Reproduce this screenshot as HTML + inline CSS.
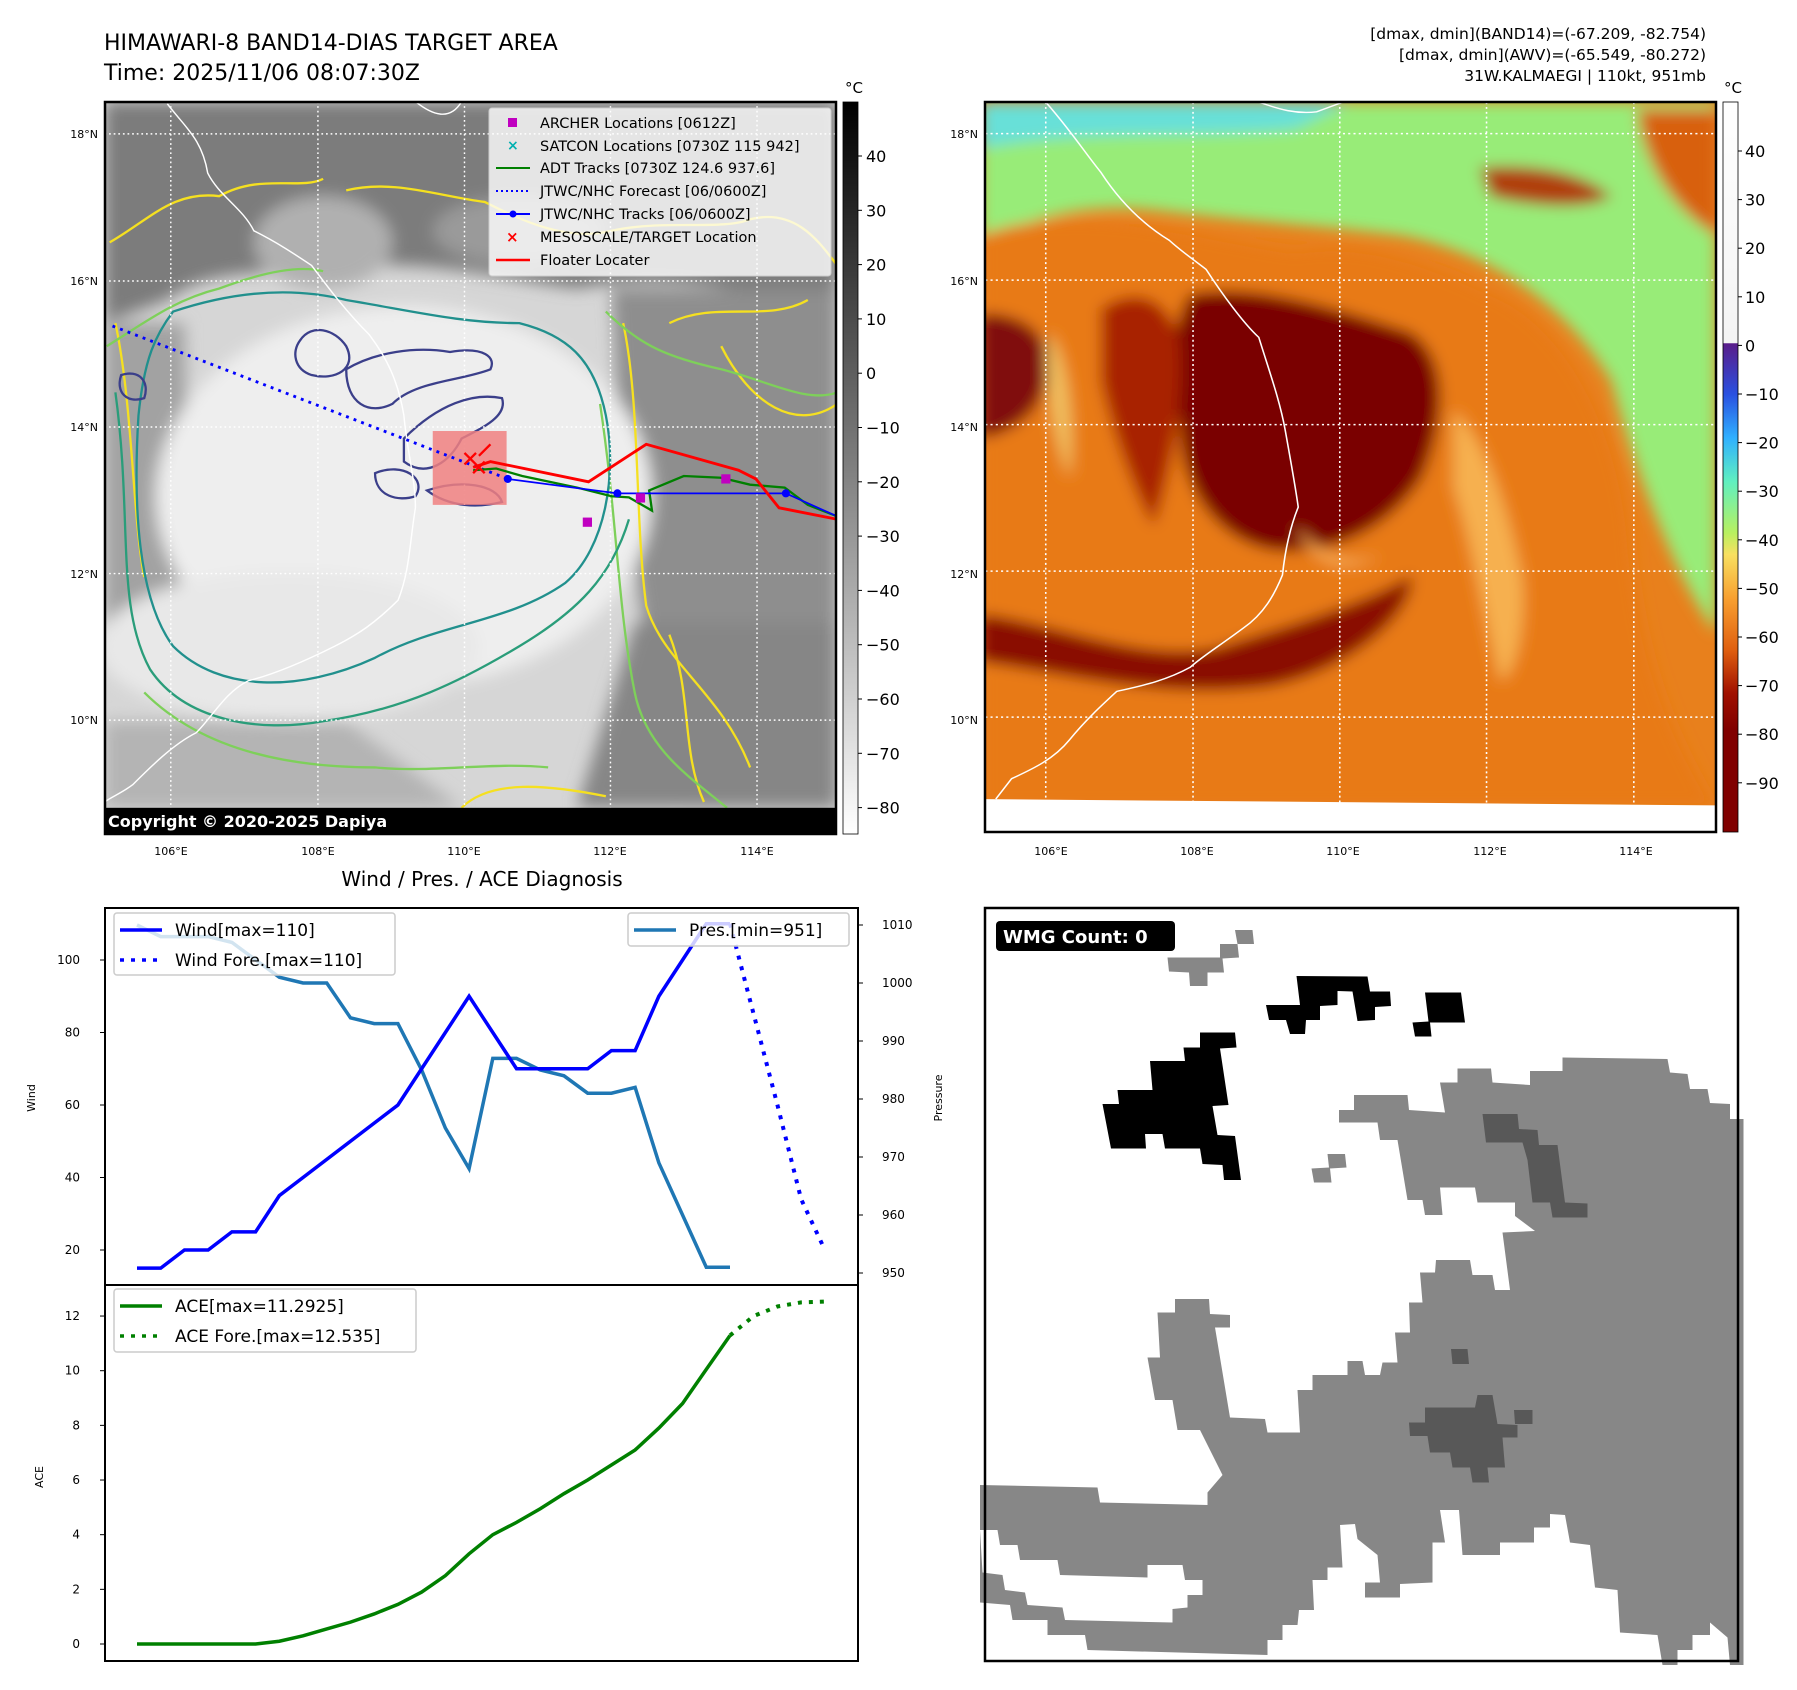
<!DOCTYPE html>
<html><head><meta charset="utf-8">
<style>
html,body{margin:0;padding:0;background:#fff;}
svg{display:block;font-family:"DejaVu Sans","Liberation Sans",sans-serif;}
</style></head>
<body>
<svg id="root" width="1797" height="1690" viewBox="0 0 1797 1690" xmlns="http://www.w3.org/2000/svg">
<defs>
<filter id="blur8" x="-20%" y="-20%" width="140%" height="140%"><feGaussianBlur stdDeviation="14"/></filter>
<filter id="blur4"><feGaussianBlur stdDeviation="6"/></filter>
<linearGradient id="cbGray" x1="0" y1="0" x2="0" y2="1"><stop offset="0" stop-color="#000"/><stop offset="1" stop-color="#fff"/></linearGradient>
<linearGradient id="cbColor" x1="0" y1="0" x2="0" y2="1">
<stop offset="0" stop-color="#ffffff"/><stop offset="0.33" stop-color="#f4f4f4"/>
<stop offset="0.331" stop-color="#5a1d8a"/><stop offset="0.40" stop-color="#2a50e0"/>
<stop offset="0.46" stop-color="#30b0ff"/><stop offset="0.52" stop-color="#60f0c0"/>
<stop offset="0.59" stop-color="#b8f060"/><stop offset="0.62" stop-color="#f8e060"/>
<stop offset="0.68" stop-color="#f8a030"/><stop offset="0.75" stop-color="#e06010"/>
<stop offset="0.81" stop-color="#a01000"/><stop offset="0.86" stop-color="#800000"/><stop offset="1" stop-color="#800000"/>
</linearGradient>
<clipPath id="clipL"><rect x="105" y="102" width="731" height="732"/></clipPath>
<clipPath id="clipR"><rect x="985" y="102" width="731" height="730"/></clipPath>
</defs>

<text x="104" y="50" font-size="22">HIMAWARI-8 BAND14-DIAS TARGET AREA</text>
<text x="104" y="80" font-size="22">Time: 2025/11/06 08:07:30Z</text>
<g font-size="15.5" text-anchor="end">
<text x="1706" y="39">[dmax, dmin](BAND14)=(-67.209, -82.754)</text>
<text x="1706" y="60">[dmax, dmin](AWV)=(-65.549, -80.272)</text>
<text x="1706" y="81">31W.KALMAEGI | 110kt, 951mb</text>
</g>

<!-- LEFT MAP -->
<g clip-path="url(#clipL)">
<g transform="scale(0.577)">
<rect x="181" y="176" width="1270" height="1270" fill="#d6d6d6"/>
<g filter="url(#blur8)">
<path d="M181,176 L1451,176 L1451,540 C1300,500 1150,470 1000,500 C850,480 700,440 560,470 C450,470 350,470 290,520 L181,560 Z" fill="#7c7c7c"/>
<path d="M1060,500 L1451,500 L1451,1400 L1180,1400 C1120,1200 1110,1000 1080,880 Z" fill="#8e8e8e"/>
<path d="M181,560 L320,560 L330,1100 L181,1150 Z" fill="#a2a2a2"/>
<ellipse cx="700" cy="860" rx="430" ry="330" fill="#eeeeee"/>
<ellipse cx="500" cy="1120" rx="330" ry="130" fill="#e8e8e8"/>
<path d="M181,1250 L600,1250 L800,1400 L181,1400 Z" fill="#b4b4b4"/>
<path d="M1100,1080 L1451,1080 L1451,1400 L1000,1400 Z" fill="#868686"/>
<ellipse cx="560" cy="420" rx="120" ry="80" fill="#b0b0b0"/>
<ellipse cx="900" cy="400" rx="150" ry="60" fill="#9a9a9a"/>
</g>
<g fill="none" stroke-width="4">
<path d="M190,420 C260,380 300,330 380,340 C450,300 520,330 560,310 M600,330 C680,310 760,340 840,350 C900,380 980,420 1060,400 C1150,380 1250,400 1300,380 C1380,360 1420,420 1451,460 M1160,560 C1240,520 1330,560 1400,520 M1080,560 C1110,700 1100,900 1120,1050 C1150,1150 1250,1200 1300,1330 M1250,600 C1300,700 1380,750 1451,700 M1160,1100 C1200,1200 1180,1300 1220,1390 M200,560 C230,700 230,900 250,1000 M800,1400 C850,1350 950,1360 1050,1380" stroke="#f5e020"/>
<path d="M185,600 C250,560 300,520 380,500 C460,470 520,460 560,470 M1050,540 C1110,600 1160,620 1250,640 C1330,660 1400,700 1451,680 M1040,700 C1070,900 1070,1050 1100,1200 C1120,1300 1200,1350 1260,1400 M250,1200 C350,1300 500,1330 650,1330 C750,1340 850,1320 950,1330" stroke="#7ed05a"/>
<path d="M300,540 C420,500 520,500 600,520 C720,540 800,560 900,560 C980,580 1030,620 1050,720 C1070,820 1050,950 980,1010 C880,1080 760,1080 650,1140 C520,1200 380,1200 300,1120 C240,1040 230,880 240,720 C250,620 270,580 300,540 Z" stroke="#21908d"/>
<path d="M200,680 C230,900 200,1050 260,1160 C320,1250 450,1270 560,1250 C700,1230 800,1180 900,1120 C1000,1060 1060,1000 1090,900" stroke="#2a9d7a"/>
<path d="M520,590 C540,560 580,570 600,600 C620,640 580,660 540,650 C510,640 505,610 520,590 Z M600,640 C650,610 720,600 780,610 C840,600 860,620 850,640 C800,660 720,660 680,700 C640,720 600,700 600,640 Z M700,760 C760,700 820,680 870,690 C880,720 840,740 800,760 C780,800 740,830 700,800 Z M650,820 C700,800 740,830 720,860 C690,870 650,860 650,820 Z M740,850 C800,830 860,840 870,870 C830,880 780,880 740,850 Z M210,650 C240,640 260,660 250,690 C220,700 200,680 210,650 Z" stroke="#3b3f8a"/>
</g>
<path d="M290,180 C320,220 350,240 360,300 C380,340 420,360 440,400 C480,420 510,440 540,460 C570,500 600,540 640,580 C670,620 690,660 700,720 C705,780 720,830 720,880 C710,940 710,990 690,1040 C650,1080 620,1100 580,1120 C520,1150 470,1170 430,1180 C390,1200 370,1240 340,1270 C300,1290 260,1330 230,1360 C210,1375 195,1380 181,1390 M720,176 C750,200 780,210 800,176" fill="none" stroke="#fff" stroke-width="2.5"/>
<g stroke="#fff" stroke-width="2.5" stroke-dasharray="3,5">
<line x1="296" y1="176" x2="296" y2="1446"/><line x1="551" y1="176" x2="551" y2="1446"/><line x1="805" y1="176" x2="805" y2="1446"/><line x1="1058" y1="176" x2="1058" y2="1446"/><line x1="1312" y1="176" x2="1312" y2="1446"/>
<line x1="181" y1="232" x2="1451" y2="232"/><line x1="181" y1="487" x2="1451" y2="487"/><line x1="181" y1="740" x2="1451" y2="740"/><line x1="181" y1="994" x2="1451" y2="994"/><line x1="181" y1="1248" x2="1451" y2="1248"/>
</g>
<rect x="750" y="747" width="128" height="128" fill="#f08080" opacity="0.85"/>
<polyline points="195,565 880,830" fill="none" stroke="#0000ff" stroke-width="5" stroke-dasharray="5,9"/>
<polyline points="820,815 860,812 905,825 1000,845 1060,860 1090,862 1130,885 1125,850 1185,825 1250,828 1300,840 1360,845 1400,875 1451,895" fill="none" stroke="#008000" stroke-width="4"/>
<polyline points="880,830 1070,855 1362,855 1451,895" fill="none" stroke="#0000ff" stroke-width="3"/>
<g fill="#0000ff"><circle cx="880" cy="830" r="7"/><circle cx="1070" cy="855" r="7"/><circle cx="1362" cy="855" r="7"/></g>
<polyline points="820,810 850,800 1020,835 1120,770 1280,815 1310,830 1350,880 1451,900" fill="none" stroke="#ff0000" stroke-width="5"/>
<g stroke="#ff0000" stroke-width="4"><path d="M805,785 l20,20 M825,785 l-20,20 M820,800 l20,20 M840,800 l-20,20 M830,790 l20,-20"/></g>
<g fill="#c000c0"><rect x="1010" y="897" width="16" height="16"/><rect x="1102" y="855" width="16" height="16"/><rect x="1250" y="822" width="16" height="16"/></g>
<rect x="181" y="1400" width="1270" height="46" fill="#000"/>
</g>
</g>
<text x="108" y="827" font-size="16" font-weight="bold" fill="#fff">Copyright © 2020-2025 Dapiya</text>
<rect x="105" y="102" width="731" height="732" fill="none" stroke="#000" stroke-width="2.5"/>
<g>
<rect x="489" y="108" width="342" height="168" rx="3" fill="#fff" fill-opacity="0.8" stroke="#ccc"/>
<g font-size="14.5">
<rect x="508" y="118" width="9" height="9" fill="#c000c0"/><text x="540" y="128">ARCHER Locations [0612Z]</text>
<text x="507" y="150" fill="#00b0b0" font-size="14" font-weight="bold">×</text><text x="540" y="151">SATCON Locations [0730Z 115 942]</text>
<line x1="496" y1="168" x2="530" y2="168" stroke="#008000" stroke-width="2"/><text x="540" y="173">ADT Tracks [0730Z 124.6 937.6]</text>
<line x1="496" y1="191" x2="530" y2="191" stroke="#0000ff" stroke-width="2" stroke-dasharray="2,3"/><text x="540" y="196">JTWC/NHC Forecast [06/0600Z]</text>
<line x1="496" y1="214" x2="530" y2="214" stroke="#0000ff" stroke-width="2"/><circle cx="513" cy="214" r="3.5" fill="#0000ff"/><text x="540" y="219">JTWC/NHC Tracks [06/0600Z]</text>
<text x="506" y="242" fill="#ff0000" font-size="15" font-weight="bold">×</text><text x="540" y="242">MESOSCALE/TARGET Location</text>
<line x1="496" y1="260" x2="530" y2="260" stroke="#ff0000" stroke-width="2.5"/><text x="540" y="265">Floater Locater</text>
</g></g>
<g font-size="11" text-anchor="end">
<text x="98" y="138">18°N</text><text x="98" y="285">16°N</text><text x="98" y="431">14°N</text><text x="98" y="578">12°N</text><text x="98" y="724">10°N</text>
</g>
<g font-size="11" text-anchor="middle">
<text x="171" y="855">106°E</text><text x="318" y="855">108°E</text><text x="464" y="855">110°E</text><text x="610" y="855">112°E</text><text x="757" y="855">114°E</text>
</g>
<g>
<rect x="843" y="102" width="15" height="732" fill="url(#cbGray)" stroke="#000" stroke-width="0.8"/>
<text x="854" y="93" font-size="15" text-anchor="middle">°C</text>
<g font-size="16" id="cbL"></g>
</g>

<!-- RIGHT MAP -->
<g clip-path="url(#clipR)">
<g transform="translate(980,90) scale(0.526,0.485)">
<rect x="0" y="0" width="1400" height="1600" fill="#e8801c"/>
<g filter="url(#blur8)">
<path d="M0,25 L1400,25 L1400,1120 C1320,1000 1250,800 1200,600 C1100,420 950,330 800,300 C650,280 500,270 350,250 C200,230 100,260 0,320 Z" fill="#98ec78"/>
<path d="M0,25 L700,25 L600,80 C400,100 200,80 0,120 Z" fill="#68e0d8"/>
<path d="M950,160 C1050,150 1150,170 1200,220 C1150,250 1050,240 970,220 Z" fill="#b04010"/>
<path d="M1250,40 L1400,40 L1400,300 C1320,250 1260,150 1250,40 Z" fill="#d86010"/>
<path d="M0,300 C200,220 400,300 600,330 C750,300 900,380 1000,430 C1150,520 1230,750 1240,950 C1260,1150 1300,1300 1400,1480 L0,1480 Z" fill="#e87a18"/>
<path d="M400,420 C520,400 650,440 820,500 C900,560 880,700 840,800 C780,900 680,960 560,950 C450,930 380,820 380,700 C370,580 360,480 400,420 Z" fill="#7a0000"/>
<path d="M600,560 C720,560 800,620 800,740 C780,860 680,900 600,860 Z" fill="#7a0000"/>
<path d="M0,460 C60,460 110,480 130,540 C140,620 100,700 0,720 Z" fill="#800808"/>
<path d="M0,1080 C150,1100 300,1180 450,1150 C600,1100 750,1050 820,1000 C830,1080 700,1200 550,1230 C350,1260 150,1200 0,1180 Z" fill="#8a1000"/>
<path d="M230,450 C300,400 360,430 380,520 C390,650 360,800 330,900 C290,820 250,700 230,600 Z" fill="#a82000"/>
<path d="M900,660 C960,720 1000,850 1030,1000 C1040,1100 1020,1200 990,1220 C960,1100 940,950 900,820 Z" fill="#f6b050"/>
<path d="M130,500 C170,550 180,700 170,800 C140,720 120,600 130,500 Z" fill="#f0c060"/>
<path d="M600,900 C650,960 700,980 760,960 C700,1000 640,990 600,900 Z" fill="#f5a850"/>
</g>
<path d="M0,1462 L1400,1475 L1400,1600 L0,1600 Z" fill="#fff"/>
<path d="M125,25 C170,80 200,130 230,170 C260,220 300,270 360,310 C380,330 400,345 430,370 C460,420 500,480 530,510 C550,580 570,640 580,700 C590,760 600,820 605,860 C590,900 580,950 575,1000 C560,1040 540,1080 500,1110 C450,1150 420,1170 400,1190 C350,1220 300,1230 260,1240 C230,1270 200,1300 170,1340 C140,1380 100,1400 60,1420 L30,1462 M530,25 C570,40 600,50 640,45 L690,25" fill="none" stroke="#fff" stroke-width="3"/>
<g stroke="#fff" stroke-width="3" stroke-dasharray="4,6">
<line x1="125" y1="25" x2="125" y2="1470"/><line x1="405" y1="25" x2="405" y2="1470"/><line x1="684" y1="25" x2="684" y2="1470"/><line x1="963" y1="25" x2="963" y2="1470"/><line x1="1243" y1="25" x2="1243" y2="1470"/>
<line x1="0" y1="90" x2="1400" y2="90"/><line x1="0" y1="392" x2="1400" y2="392"/><line x1="0" y1="690" x2="1400" y2="690"/><line x1="0" y1="992" x2="1400" y2="992"/><line x1="0" y1="1293" x2="1400" y2="1293"/>
</g>
</g>
</g>
<rect x="985" y="102" width="731" height="730" fill="none" stroke="#000" stroke-width="2.5"/>
<g font-size="11" text-anchor="end">
<text x="978" y="138">18°N</text><text x="978" y="285">16°N</text><text x="978" y="431">14°N</text><text x="978" y="578">12°N</text><text x="978" y="724">10°N</text>
</g>
<g font-size="11" text-anchor="middle">
<text x="1051" y="855">106°E</text><text x="1197" y="855">108°E</text><text x="1343" y="855">110°E</text><text x="1490" y="855">112°E</text><text x="1636" y="855">114°E</text>
</g>
<g>
<rect x="1723" y="102" width="15" height="730" fill="url(#cbColor)" stroke="#000" stroke-width="0.8"/>
<text x="1733" y="93" font-size="15" text-anchor="middle">°C</text>
<g font-size="16" id="cbR"></g>
</g>

<text x="482" y="886" font-size="20" text-anchor="middle">Wind / Pres. / ACE Diagnosis</text>
<g id="chart"></g>
<text transform="translate(35,1098) rotate(-90)" font-size="11" text-anchor="middle">Wind</text>
<text transform="translate(942,1098) rotate(-90)" font-size="11" text-anchor="middle">Pressure</text>
<text transform="translate(43,1477) rotate(-90)" font-size="11" text-anchor="middle">ACE</text>

<g>
<g transform="translate(980,900) scale(0.5)">
<path d="M0,1170 L235,1175 L240,1205 L455,1210 L455,1185 L485,1150 L440,1060 L395,1060 L385,1000 L350,1000 L335,915 L360,915 L355,825 L390,825 L390,798 L458,798 L460,828 L500,830 L500,855 L470,855 L500,1035 L570,1038 L575,1065 L640,1065 L635,980 L665,980 L665,950 L735,950 L735,922 L765,922 L770,950 L800,950 L805,925 L835,925 L830,865 L860,865 L858,805 L885,805 L880,745 L910,745 L912,720 L980,720 L985,750 L1025,750 L1030,780 L1060,780 L1045,665 L1110,662 L1070,632 L1070,605 L995,605 L990,575 L920,575 L925,630 L890,630 L885,600 L855,600 L835,480 L800,480 L795,445 L718,445 L718,420 L748,420 L748,390 L855,390 L858,420 L930,425 L920,365 L955,365 L955,337 L1022,337 L1025,365 L1100,370 L1100,342 L1165,342 L1165,315 L1375,318 L1380,345 L1415,348 L1420,378 L1455,378 L1460,406 L1500,408 L1500,438 L1527,438 L1527,1530 L1500,1530 L1495,1475 L1460,1445 L1460,1470 L1425,1470 L1425,1500 L1395,1500 L1395,1530 L1365,1530 L1355,1470 L1280,1465 L1275,1380 L1230,1375 L1220,1290 L1180,1285 L1170,1230 L1140,1228 L1140,1255 L1108,1255 L1108,1285 L1040,1285 L1040,1310 L965,1310 L958,1220 L920,1220 L930,1285 L905,1285 L905,1365 L840,1368 L840,1395 L770,1395 L770,1365 L800,1365 L795,1310 L755,1278 L750,1248 L720,1250 L725,1335 L695,1335 L695,1360 L665,1360 L668,1420 L638,1420 L635,1450 L605,1450 L605,1480 L575,1480 L575,1510 L215,1500 L210,1470 L135,1470 L135,1440 L65,1440 L60,1410 L0,1405 Z" fill="#878787"/>
<path d="M0,1260 L35,1260 L40,1290 L75,1290 L80,1320 L155,1320 L160,1350 L335,1355 L335,1330 L405,1330 L410,1360 L445,1360 L445,1390 L415,1390 L415,1415 L385,1418 L385,1445 L170,1440 L165,1415 L95,1410 L90,1385 L50,1380 L45,1350 L5,1345 Z" fill="#fff"/>
<path d="M510,60 L545,60 L548,88 L515,88 Z M480,88 L515,88 L518,115 L485,117 L488,145 L455,145 L455,172 L420,172 L418,145 L378,143 L375,115 L480,115 Z M695,508 L730,508 L733,535 L700,537 L703,565 L668,565 L663,537 L698,535 Z" fill="#878787"/>
<path d="M1005,428 L1075,428 L1078,458 L1115,460 L1118,490 L1155,490 L1170,605 L1215,607 L1215,635 L1145,635 L1140,605 L1105,605 L1095,520 L1085,485 L1012,485 Z M890,1015 L990,1015 L995,990 L1025,990 L1035,1048 L1075,1050 L1075,1075 L1045,1075 L1050,1135 L1015,1135 L1018,1165 L985,1165 L980,1135 L945,1135 L940,1105 L900,1105 L895,1072 L860,1072 L858,1045 L890,1045 Z M942,898 L975,898 L978,928 L945,928 Z M1068,1020 L1105,1020 L1105,1048 L1070,1048 Z" fill="#585858"/>
<path d="M440,265 L510,265 L513,295 L480,297 L497,410 L465,412 L475,470 L510,472 L522,560 L488,560 L485,530 L445,528 L440,497 L370,497 L365,468 L330,468 L332,497 L262,497 L245,408 L278,408 L275,380 L345,380 L340,322 L410,322 L407,295 L440,295 Z M633,152 L775,153 L780,183 L820,183 L822,212 L790,214 L790,240 L755,242 L745,183 L715,182 L715,210 L680,212 L680,240 L652,240 L650,268 L620,268 L612,240 L578,240 L572,210 L640,210 Z M890,185 L962,185 L970,245 L900,245 L903,273 L870,273 L865,245 L897,243 Z" fill="#000"/>
</g>
<rect x="985" y="908" width="753" height="753" fill="none" stroke="#000" stroke-width="2.5"/>
<rect x="996" y="921" width="179" height="30" rx="4" fill="#000"/>
<text x="1003" y="943" font-size="18" font-weight="bold" fill="#fff">WMG Count: 0</text>
</g>

<script>
var irTicks = [40,30,20,10,0,-10,-20,-30,-40,-50,-60,-70,-80];
var awvTicks = [40,30,20,10,0,-10,-20,-30,-40,-50,-60,-70,-80,-90];
var windObs = [15,15,20,20,25,25,35,40,45,50,55,60,70,80,90,80,70,70,70,70,75,75,90,100,110,110];
var windFore = [110,85,60,34,20];
var presObs = [1010,1008,1008,1008,1007,1004,1001,1000,1000,994,993,993,985,975,968,987,987,985,984,981,981,982,969,960,951,951];
var aceObs = [0,0,0,0,0,0,0.1,0.3,0.55,0.8,1.1,1.45,1.9,2.5,3.3,4.0,4.45,4.95,5.5,6.0,6.55,7.1,7.9,8.8,10.05,11.29];
var aceFore = [11.29,12.0,12.35,12.5,12.53];
var windTicks = [20,40,60,80,100];
var presTicks = [950,960,970,980,990,1000,1010];
var aceTicks = [0,2,4,6,8,10,12];

var NS='http://www.w3.org/2000/svg';
function mk(tag,attrs,parent){var e=document.createElementNS(NS,tag);for(var k in attrs)e.setAttribute(k,attrs[k]);parent.appendChild(e);return e;}

var cbL=document.getElementById('cbL');
irTicks.forEach(function(t){
  var y=156+(40-t)*5.43;
  var tx=mk('text',{x:866,y:y+6},cbL); tx.textContent=(t<0?'\u2212'+(-t):t);
  
  
  mk('line',{x1:858,y1:y,x2:862,y2:y,stroke:'#000'},cbL);
});
var cbR=document.getElementById('cbR');
awvTicks.forEach(function(t){
  var y=151+(40-t)*4.86;
  var tx=mk('text',{x:1745,y:y+6},cbR); tx.textContent=(t<0?'\u2212'+(-t):t);
  
  
  mk('line',{x1:1738,y1:y,x2:1742,y2:y,stroke:'#000'},cbR);
});

var ch=document.getElementById('chart');
function xs(i){return 137+i*23.72;}
function yWind(v){return 1250-(v-20)*3.625;}
function yPres(p){return 1273-(p-950)*5.8;}
function yAce(a){return 1644-a*27.33;}
function pts(arr,fy,off){return arr.map(function(v,i){return xs(i+off)+','+fy(v);}).join(' ');}

var pl;
pl=mk('polyline',{points:pts(presObs,yPres,0),fill:'none',stroke:'#1f77b4','stroke-width':3.5},ch);


pl=mk('polyline',{points:pts(windObs,yWind,0),fill:'none',stroke:'#0000ff','stroke-width':3.5},ch);


pl=mk('polyline',{points:pts(windFore,yWind,windObs.length-1),fill:'none',stroke:'#0000ff','stroke-width':4,'stroke-dasharray':'4,7'},ch);


pl=mk('polyline',{points:pts(aceObs,yAce,0),fill:'none',stroke:'#008000','stroke-width':3.5},ch);


pl=mk('polyline',{points:pts(aceFore,yAce,aceObs.length-1),fill:'none',stroke:'#008000','stroke-width':4,'stroke-dasharray':'4,7'},ch);



mk('rect',{x:105,y:908,width:753,height:377,fill:'none',stroke:'#000','stroke-width':2},ch);
mk('rect',{x:105,y:1285,width:753,height:376,fill:'none',stroke:'#000','stroke-width':2},ch);

windTicks.forEach(function(t){var y=yWind(t);mk('line',{x1:100,y1:y,x2:105,y2:y,stroke:'#000'},ch);
  var tx=mk('text',{x:80,y:y+4,'font-size':12,'text-anchor':'end'},ch);tx.textContent=t;
  
  });
presTicks.forEach(function(t){var y=yPres(t);mk('line',{x1:858,y1:y,x2:863,y2:y,stroke:'#000'},ch);
  var tx=mk('text',{x:882,y:y+4,'font-size':12},ch);tx.textContent=t;
  
  });
aceTicks.forEach(function(t){var y=yAce(t);mk('line',{x1:100,y1:y,x2:105,y2:y,stroke:'#000'},ch);
  var tx=mk('text',{x:80,y:y+4,'font-size':12,'text-anchor':'end'},ch);tx.textContent=t;
  
  });

function legend(x,y,w,h,items,name){
  var g=mk('g',{},ch);
  
  
  mk('rect',{x:x,y:y,width:w,height:h,rx:3,fill:'#fff','fill-opacity':0.8,stroke:'#ccc','stroke-width':1.5},g);
  items.forEach(function(it,i){var cy=y+17+i*30;
    var a={x1:x+6,y1:cy,x2:x+48,y2:cy,stroke:it.c,'stroke-width':3.5};if(it.d)a['stroke-dasharray']='4,7';
    mk('line',a,g);
    var t=mk('text',{x:x+61,y:cy+6,'font-size':17},g);t.textContent=it.t;});
}
legend(114,913,281,62,[{c:'#0000ff',t:'Wind[max=110]'},{c:'#0000ff',t:'Wind Fore.[max=110]',d:1}],'wind-legend');
legend(628,913,221,33,[{c:'#1f77b4',t:'Pres.[min=951]'}],'pressure-legend');
legend(114,1289,302,63,[{c:'#008000',t:'ACE[max=11.2925]'},{c:'#008000',t:'ACE Fore.[max=12.535]',d:1}],'ace-legend');
</script>
</svg>
</body></html>
